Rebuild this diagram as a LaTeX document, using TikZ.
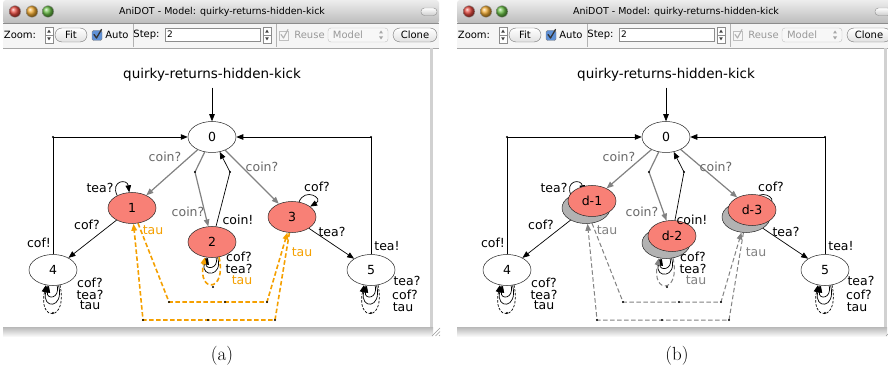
\documentclass[tikz,border=0pt]{standalone}
\usepackage{fontspec}
\newfontfamily\uifont{DejaVu Sans}
\usetikzlibrary{shapes.geometric,arrows.meta}
\pgfdeclarelayer{chromelayer}
\pgfdeclarelayer{edges}
\pgfsetlayers{chromelayer,edges,main}

\definecolor{nodered}{RGB}{248,128,118}
\definecolor{tauorange}{RGB}{245,160,0}
\definecolor{edgegray}{RGB}{130,130,130}
\definecolor{labelgray}{RGB}{105,105,105}
\definecolor{shadowgray}{RGB}{178,178,178}
\definecolor{checkblue}{RGB}{95,145,215}

\tikzset{
  stnode/.style={ellipse, draw=black!85, line width=0.5pt, minimum width=48pt,
    minimum height=31pt, inner sep=0pt, font=\uifont\fontsize{12.5}{14}\selectfont},
  wnode/.style={stnode, fill=white},
  rnode/.style={stnode, fill=nodered},
  snode/.style={stnode, fill=shadowgray},
  arr/.style={-{Triangle[length=7pt,width=5.5pt]}},
  lnk/.style={draw=black, line width=0.7pt, arr},
  glnk/.style={draw=edgegray, line width=1.2pt, arr},
  tauedge/.style={draw=#1, line width=1.1pt, dash pattern=on 4.5pt off 2.5pt, arr},
  lbl/.style={font=\uifont\fontsize{12.5}{14}\selectfont, inner sep=0pt},
  glbl/.style={lbl, text=labelgray},
  tb/.style={font=\uifont\fontsize{10}{12}\selectfont, inner sep=0pt},
  btn/.style={tb, draw=black!55, rounded corners=7pt, top color=white,
    bottom color=black!12, minimum height=14pt},
}

% small up/down stepper; #1 = left edge, #2 = top edge
\newcommand\stepper[2]{%
  \draw[black!45, fill=white] (#1,#2) rectangle (#1+8,#2+8);
  \draw[black!45, fill=white] (#1,#2+8) rectangle (#1+8,#2+16);
  \fill[black!75] (#1+2.2,#2+5.6) -- (#1+5.8,#2+5.6) -- (#1+4,#2+2.6) -- cycle;
  \fill[black!75] (#1+2.2,#2+10.4) -- (#1+5.8,#2+10.4) -- (#1+4,#2+13.4) -- cycle;
}

% window frame, title bar and tool bar
\newcommand\chrome{%
  \fill[white] (3,22) rectangle (439,336);
  \shade[top color=black!7, bottom color=black!27, rounded corners=3pt] (3,0) rectangle (439,24);
  \node[font=\uifont\fontsize{9.5}{11}\selectfont, inner sep=0pt] (title) at (222,11.5)
    {AniDOT - Model: quirky-returns-hidden-kick};
  \shade[ball color={rgb,255:red,230;green,75;blue,65}] (15,11.5) circle (5.8pt);
  \shade[ball color={rgb,255:red,240;green,170;blue,50}] (32,11.5) circle (5.8pt);
  \shade[ball color={rgb,255:red,105;green,190;blue,70}] (48,11.5) circle (5.8pt);
  \draw[black!40] (15,11.5) circle (5.8pt) (32,11.5) circle (5.8pt) (48,11.5) circle (5.8pt);
  \path[draw=black!45, top color=white, bottom color=black!20, rounded corners=3.5pt]
    (421,8) rectangle (437,15.5);
  % tool bar
  \fill[black!4] (3,23) rectangle (439,48);
  \draw[black!45] (3,23) -- (439,23);
  \draw[black!35] (3,48) -- (439,48);
  \draw[black!30] (133,24) -- (133,47) (276,24) -- (276,47);
  \node[tb] (zoomlbl) at (20,35) {Zoom:};
  \stepper{45}{27}
  \node[btn, minimum width=32pt] (fitbtn) at (71,35) {Fit};
  \node[draw=black!50, fill=checkblue, minimum size=10pt, inner sep=0pt,
    rounded corners=1.5pt] (autobox) at (97,35.5) {};
  \draw[line width=1.3pt, black!80, line cap=round, line join=round]
    (94,34.5) -- (96.5,38) -- (101.5,29.5);
  \node[tb] (autolbl) at (117,35) {Auto};
  \node[tb] (steplbl) at (146.5,35) {Step:};
  \node[draw=black!45, fill=white, minimum width=95pt, minimum height=13pt, inner sep=0pt]
    (stepfield) at (212.5,34.5) {};
  \node[tb, anchor=west, font=\uifont\fontsize{9}{11}\selectfont] (stepval) at (167,34) {2};
  \stepper{263}{27}
  \node[draw=black!25, fill=black!3, minimum size=9pt, inner sep=0pt] (reusebox) at (284,35.5) {};
  \draw[line width=1.1pt, black!30, line cap=round, line join=round]
    (281,34.5) -- (283.5,38) -- (288,29.5);
  \node[tb, text=black!40] (reuselbl) at (309.5,35) {Reuse};
  \node[draw=black!25, fill=black!3, rounded corners=3pt, minimum width=60pt,
    minimum height=14pt, inner sep=0pt] (modelpop) at (358,35) {};
  \node[tb, text=black!40] (modellbl) at (348,35) {Model};
  \fill[black!35] (379,33.5) -- (383,33.5) -- (381,30.5) -- cycle;
  \fill[black!35] (379,36.5) -- (383,36.5) -- (381,39.5) -- cycle;
  \node[btn, minimum width=44pt] (clonebtn) at (415,35) {Clone};
  % canvas border and resize grip
  \fill[black!18] (430,48) rectangle (433,327);
  \shade[top color=black!28, bottom color=black!3] (3,327) rectangle (433,336);
  \draw[black!40] (432,336) -- (440,328) (435.5,336) -- (440,331.5) (439,336) -- (440,335);
}

% graph edges and labels; #1 = colour of the tau moves, #2 = prefix of the
% coin-target node names, #3 = width of the tau lines
\newcommand\graphedges[3]{%
  \node[lbl, font=\uifont\fontsize{13.5}{15}\selectfont] (ttl) at (212,75) {quirky-returns-hidden-kick};
  \begin{pgfonlayer}{edges}
    \draw[lnk, shorten <=6pt] (ttl) -- (n0);
    \draw[glnk] (n0) -- (#21);
    \draw[glnk] (n0) -- (195,172) -- (#22);
    \draw[lnk] (#22) -- (230,172) -- (n0);
    \draw[glnk] (n0) -- (#23);
    \draw[lnk] (n4.north) -- (53,137) -- (n0.west);
    \draw[lnk] (n5.north) -- (371,137) -- (n0.east);
    \draw[lnk] (n1) -- (n4);
    \draw[lnk] (n3) -- (n5);
    % self-loops
    \draw[lnk] (n1.140) .. controls +(-7,-15) and +(-2,-14) .. (n1.100);
    \draw[lnk] (n3.65) .. controls +(6,-15) and +(14,-8) .. (n3.30);
    \draw[lnk] (n4.285) .. controls +(3,14) and +(-3,14) .. (n4.255);
    \draw[lnk] (n4.290) .. controls +(6,24) and +(-6,24) .. (n4.250);
    \draw[lnk, dash pattern=on 2.5pt off 1.5pt] (n4.295) .. controls +(8,37) and +(-8,37) .. (n4.245);
    \draw[lnk] (n5.285) .. controls +(3,14) and +(-3,14) .. (n5.255);
    \draw[lnk] (n5.290) .. controls +(6,24) and +(-6,24) .. (n5.250);
    \draw[lnk, dash pattern=on 2.5pt off 1.5pt] (n5.295) .. controls +(8,37) and +(-8,37) .. (n5.245);
    \draw[lnk] (n2.285) .. controls +(3,12) and +(-3,12) .. (n2.255);
    \draw[lnk] (n2.290) .. controls +(6,20) and +(-6,20) .. (n2.250);
    \draw[tauedge=#1, line width=#3] (n2.295) .. controls +(8,36) and +(-8,36) .. (n2.245);
    % hidden moves between 1 and 3
    \draw[tauedge=#1, line width=#3] (n1) -- (169,302) -- (267,302) -- (n3);
    \draw[tauedge=#1, line width=#3] (n3) -- (275,320) -- (143,320) -- (n1);
    % spline points
    \foreach \x/\y in {195/172, 230/172, 53/137, 371/137, 169/302, 225/302, 267/302,
      143/320, 208/320, 275/320, 213/287, 53/313, 371/313}
      \fill (\x,\y) circle (1.2pt);
  \end{pgfonlayer}
  \node[glbl] (l01) at (165,157) {coin?};
  \node[glbl] (l02) at (188,212) {coin?};
  \node[lbl] (l20) at (238,220) {coin!};
  \node[glbl] (l03) at (262,167) {coin?};
  \node[lbl] (l33) at (317,187) {cof?};
  \node[lbl] (l11) at (100,188) {tea?};
  \node[lbl] (l14) at (87,225) {cof?};
  \node[lbl] (l40) at (39,243) {cof!};
  \node[lbl] (l35) at (332,232) {tea?};
  \node[lbl] (l50) at (387,246) {tea!};
  \node[lbl] (l44a) at (90,283) {cof?};
  \node[lbl] (l44b) at (90,294.5) {tea?};
  \node[lbl] (l44c) at (90,305.5) {tau};
  \node[lbl] (l55a) at (407,281) {tea?};
  \node[lbl] (l55b) at (405,294.5) {cof?};
  \node[lbl] (l55c) at (403,307.5) {tau};
  \node[lbl] (l22a) at (239,257) {cof?};
  \node[lbl] (l22b) at (239,269) {tea?};
  \node[lbl, text=#1] (l22c) at (242,280.5) {tau};
  \node[lbl, text=#1] (l13) at (153,230) {tau};
  \node[lbl, text=#1] (l31) at (302,252) {tau};
}

\begin{document}
\begin{tikzpicture}[x=1pt, y=-1pt]
  \useasboundingbox (0,0) rectangle (888,371);
  \begin{pgfonlayer}{chromelayer}
    \fill[white] (0,0) rectangle (888,371);
  \end{pgfonlayer}

  % (a) the model with the states of the hidden moves marked
  \begin{scope}[name prefix=a-]
    \begin{pgfonlayer}{chromelayer}
      \chrome
    \end{pgfonlayer}
    \node[wnode] (n0) at (212,137) {0};
    \node[rnode] (n1) at (132,208) {1};
    \node[rnode] (n2) at (212,242) {2};
    \node[rnode] (n3) at (292,217) {3};
    \node[wnode] (n4) at (53,270) {4};
    \node[wnode] (n5) at (371,270) {5};
    \graphedges{tauorange}{n}{1.6pt}
  \end{scope}

  % (b) the same model with the marked states merged into d-states
  \begin{scope}[xshift=454pt, name prefix=b-]
    \begin{pgfonlayer}{chromelayer}
      \chrome
    \end{pgfonlayer}
    \node[wnode] (n0) at (212,137) {0};
    \node[snode] (n1) at (132,208) {};
    \node[rnode] (c1) at (138,201) {d-1};
    \node[snode] (n2) at (212,243) {};
    \node[rnode] (c2) at (218,236) {d-2};
    \node[snode] (n3) at (292,217) {};
    \node[rnode] (c3) at (298,210) {d-3};
    \node[wnode] (n4) at (53,270) {4};
    \node[wnode] (n5) at (371,270) {5};
    \graphedges{edgegray}{c}{1pt}
  \end{scope}

  \node[font=\fontsize{19}{21}\selectfont] (capa) at (222,356) {(a)};
  \node[font=\fontsize{19}{21}\selectfont] (capb) at (677,356) {(b)};
\end{tikzpicture}
\end{document}
